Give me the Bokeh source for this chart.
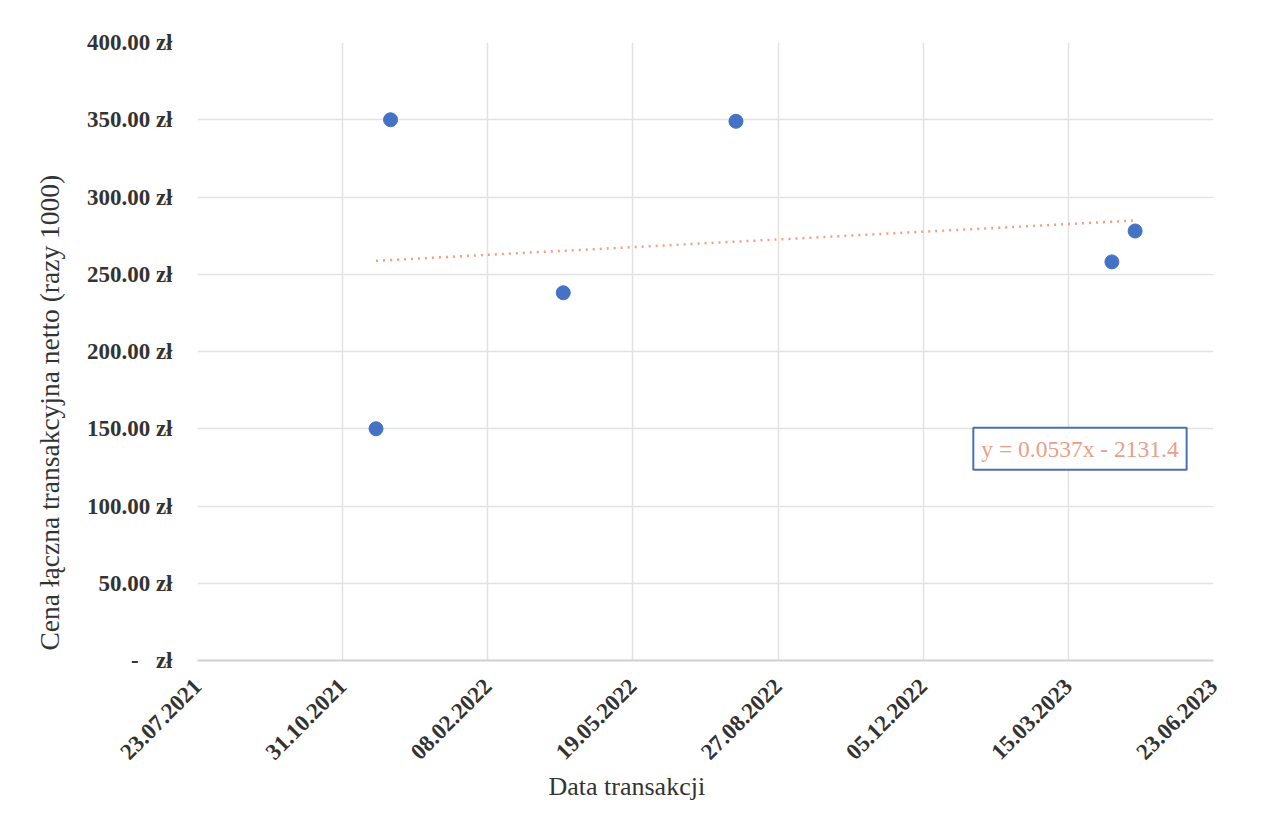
import numpy as np
from datetime import datetime
from bokeh.plotting import figure
from bokeh.models import Range1d, FixedTicker, CustomJSTickFormatter, DatetimeTickFormatter, Label, Title, ColumnDataSource
from bokeh.embed import file_html
from bokeh.resources import INLINE

# ---- data ----
transaction_dates = ["23.11.2021", "03.12.2021", "01.04.2022", "29.07.2022", "14.04.2023", "30.04.2023"]
net_prices = [150, 350, 238, 349, 258, 278]          # zł (razy 1000)
x_tick_labels = ["23.07.2021", "31.10.2021", "08.02.2022", "19.05.2022",
                 "27.08.2022", "05.12.2022", "15.03.2023", "23.06.2023"]
y_ticks = [0, 50, 100, 150, 200, 250, 300, 350, 400]
trend_label = "y = 0.0537x - 2131.4"
x_title = "Data transakcji"
y_title = "Cena łączna transakcyjna netto (razy 1000)"

def parse(d):
    return datetime.strptime(d, "%d.%m.%Y")

EPOCH = datetime(1970, 1, 1)
def ms(d):
    return (d - EPOCH).total_seconds() * 1000.0

xs = [parse(d) for d in transaction_dates]
tick_dt = [parse(d) for d in x_tick_labels]

# linear trend (least squares on the data)
days = np.array([(d - EPOCH).days for d in xs], dtype=float)
slope, intercept = np.polyfit(days, np.array(net_prices, dtype=float), 1)
tx = [min(xs), max(xs)]
ty = [slope * (d - EPOCH).days + intercept for d in tx]

FONT = "Liberation Serif"
TXT = "#333333"

p = figure(width=1248, height=816, x_axis_type="datetime",
           output_backend="svg", toolbar_location=None,
           x_range=Range1d(tick_dt[0], tick_dt[-1]),
           y_range=Range1d(y_ticks[0], y_ticks[-1]),
           min_border_left=197, min_border_right=35,
           min_border_top=42, min_border_bottom=156)
p.outline_line_color = None
p.background_fill_color = "white"
p.border_fill_color = "white"

# axes
p.xaxis.ticker = FixedTicker(ticks=[ms(d) for d in tick_dt])
p.xaxis.formatter = DatetimeTickFormatter(
    milliseconds="%d.%m.%Y", seconds="%d.%m.%Y", minsec="%d.%m.%Y",
    minutes="%d.%m.%Y", hourmin="%d.%m.%Y", hours="%d.%m.%Y",
    days="%d.%m.%Y", months="%d.%m.%Y", years="%d.%m.%Y")
p.xaxis.major_label_orientation = np.pi / 4
p.xaxis.major_label_text_font = FONT
p.xaxis.major_label_text_font_size = "23px"
p.xaxis.major_label_text_font_style = "bold"
p.xaxis.major_label_text_color = TXT
p.xaxis.major_label_standoff = 16
p.xaxis.axis_line_color = "#d0d0d8"
p.xaxis.axis_line_width = 2
p.xaxis.major_tick_line_color = None
p.xaxis.minor_tick_line_color = None

p.yaxis.ticker = FixedTicker(ticks=y_ticks)
p.yaxis.formatter = CustomJSTickFormatter(code="""
    if (tick == 0) { return "-\u00a0\u00a0\u00a0zł"; }
    return tick.toFixed(2) + " zł";
""")
p.yaxis.major_label_text_font = FONT
p.yaxis.major_label_text_font_size = "23px"
p.yaxis.major_label_text_font_style = "bold"
p.yaxis.major_label_text_color = TXT
p.yaxis.major_label_standoff = 19
p.yaxis.axis_line_color = None
p.yaxis.major_tick_line_color = None
p.yaxis.minor_tick_line_color = None

p.xgrid.ticker = FixedTicker(ticks=[ms(d) for d in tick_dt])
p.ygrid.ticker = FixedTicker(ticks=y_ticks)
p.xgrid.grid_line_color = "#e2e2e2"
p.ygrid.grid_line_color = "#e2e2e2"
p.xgrid.grid_line_width = 1.5
p.ygrid.grid_line_width = 1.5

# axis titles
p.add_layout(Title(text=x_title, align="left", offset=351, standoff=0,
                   text_font=FONT, text_font_size="26px", text_font_style="normal",
                   text_color=TXT), "below")
p.add_layout(Title(text=y_title, align="left", offset=10, standoff=38,
                   text_font=FONT, text_font_size="27.5px", text_font_style="normal",
                   text_color=TXT), "left")

# trendline
p.line(x=tx, y=ty, line_color="#F0A080", line_width=2.5, line_dash="2 5")

# data points
src = ColumnDataSource(dict(x=xs, y=net_prices))
p.scatter("x", "y", source=src, size=14, fill_color="#4472C4", line_color="#4472C4")

# trendline equation label
p.add_layout(Label(x=ms(datetime(2023, 3, 23)), y=137, text=trend_label,
                   text_align="center", text_baseline="middle",
                   text_font=FONT, text_font_size="23.5px", text_color="#E8A088",
                   padding=8, border_line_color="#4A6FB5", border_line_width=2,
                   background_fill_color="white"))

open("out.html", "w").write(file_html(p, INLINE))
